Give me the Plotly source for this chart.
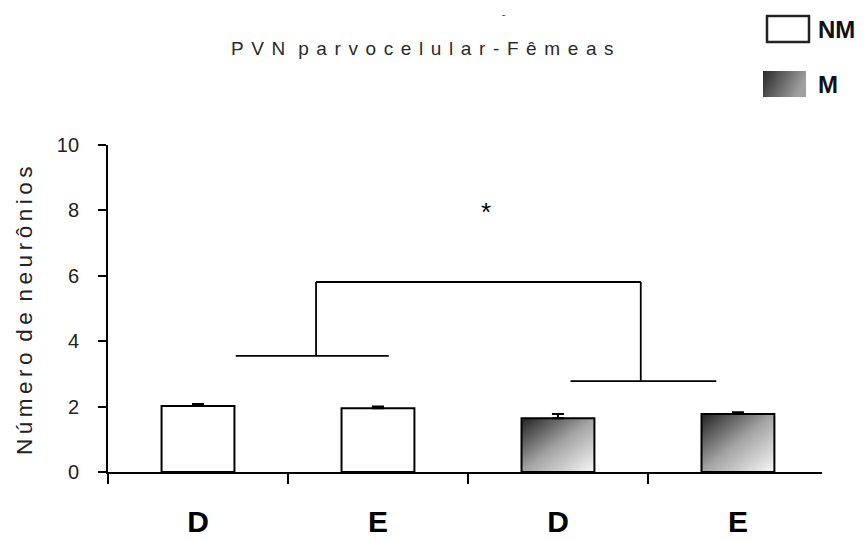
import base64
import plotly.graph_objects as go

# ---- data ----
categories = ["D", "E", "D", "E"]
groups = ["NM", "NM", "M", "M"]
means = [2.02, 1.95, 1.64, 1.77]
sems = [0.06, 0.05, 0.13, 0.06]
legend_names = ["NM", "M"]
title_text = "PVN parvocelular-Fêmeas"
ytitle_text = "Número de neurônios"
y_ticks = [0, 2, 4, 6, 8, 10]
signif_text = "*"

# ---- styling / geometry ----
W, H = 866, 541
OFF = 8  # page body margin offset
ML, MR, MT, MB = 108 - OFF, 866 - (822 - OFF), 145 - OFF, 541 - (472 - OFF)
PW, PH = W - ML - MR, H - MT - MB
BAR_W = 0.405
xpos = list(range(len(categories)))
FONT = "Liberation Sans, Arial"


def px(xs):  # screen x -> paper
    return (xs - OFF - ML) / PW


def py(ys):  # screen y -> paper
    return 1 - (ys - OFF - MT) / PH


grad_svg = ('<svg xmlns="http://www.w3.org/2000/svg" width="100" height="100" preserveAspectRatio="none">'
            '<defs><linearGradient id="g" x1="0" y1="0" x2="1" y2="1">'
            '<stop offset="0" stop-color="#222222"/><stop offset="0.5" stop-color="#a4a4a4"/>'
            '<stop offset="1" stop-color="#f8f8f8"/></linearGradient></defs>'
            '<rect width="100" height="100" fill="url(#g)"/></svg>')
grad_uri = "data:image/svg+xml;base64," + base64.b64encode(grad_svg.encode()).decode()

leg_svg = ('<svg xmlns="http://www.w3.org/2000/svg" width="100" height="100" preserveAspectRatio="none">'
           '<defs><linearGradient id="g" x1="0" y1="0" x2="1" y2="0.3">'
           '<stop offset="0" stop-color="#2a2a2a"/><stop offset="1" stop-color="#a0a0a0"/></linearGradient></defs>'
           '<rect width="100" height="100" fill="url(#g)"/></svg>')
leg_uri = "data:image/svg+xml;base64," + base64.b64encode(leg_svg.encode()).decode()


def spaced(s, sep, wsep):
    return wsep.join(sep.join(list(w)) for w in s.split(" "))


fig = go.Figure()
for g, fill in zip(legend_names, ["white", "rgba(0,0,0,0)"]):
    idx = [i for i, gg in enumerate(groups) if gg == g]
    fig.add_trace(go.Bar(
        x=[xpos[i] for i in idx], y=[means[i] for i in idx],
        width=BAR_W, name=g, showlegend=False,
        marker=dict(color=fill, line=dict(color="black", width=2)),
        error_y=dict(type="data", symmetric=False, array=[sems[i] for i in idx],
                     arrayminus=[0 for _ in idx], visible=True,
                     color="black", thickness=2, width=6),
    ))

images = []
for i, g in enumerate(groups):
    if g == "M":
        images.append(dict(source=grad_uri, xref="x", yref="y",
                           x=xpos[i] - BAR_W / 2, y=means[i], sizex=BAR_W, sizey=means[i],
                           xanchor="left", yanchor="top", sizing="stretch", layer="below"))
# legend gradient box
images.append(dict(source=leg_uri, xref="paper", yref="paper",
                   x=px(763), y=py(71), sizex=43 / PW, sizey=26 / PH,
                   xanchor="left", yanchor="top", sizing="stretch", layer="above"))

# significance bracket (data coordinates)
left_line = (0.21, 1.06, 3.55)
right_line = (2.07, 2.88, 2.78)
top_y = 5.81
lx = 0.656
rx = 2.46
lw = dict(color="black", width=1.8)
shapes = [
    dict(type="line", xref="x", yref="y", x0=left_line[0], x1=left_line[1], y0=left_line[2], y1=left_line[2], line=lw),
    dict(type="line", xref="x", yref="y", x0=right_line[0], x1=right_line[1], y0=right_line[2], y1=right_line[2], line=lw),
    dict(type="line", xref="x", yref="y", x0=lx, x1=lx, y0=left_line[2], y1=top_y, line=lw),
    dict(type="line", xref="x", yref="y", x0=rx, x1=rx, y0=right_line[2], y1=top_y, line=lw),
    dict(type="line", xref="x", yref="y", x0=lx, x1=rx, y0=top_y, y1=top_y, line=lw),
    # legend NM box
    dict(type="rect", xref="paper", yref="paper",
         x0=px(767), x1=px(809), y0=py(42), y1=py(16),
         line=dict(color="#222", width=2.5), fillcolor="white"),
]

annotations = [
    dict(text=signif_text, x=1.6, y=7.95, xref="x", yref="y", showarrow=False,
         font=dict(size=26, color="black", family=FONT)),
    dict(text=spaced(ytitle_text, "\u2009", " \u2009"), textangle=-90, xref="paper", yref="paper",
         x=px(24), y=py(311), xanchor="center", yanchor="middle", showarrow=False,
         font=dict(size=22.5, color="#222", family=FONT)),
    dict(text="<b>" + legend_names[0] + "</b>", xref="paper", yref="paper",
         x=px(816), y=py(29), xanchor="left", yanchor="middle", showarrow=False,
         font=dict(size=24, color="#111", family=FONT)),
    dict(text="<b>" + legend_names[1] + "</b>", xref="paper", yref="paper",
         x=px(816), y=py(84), xanchor="left", yanchor="middle", showarrow=False,
         font=dict(size=24, color="#111", family=FONT)),
    dict(text="-", xref="paper", yref="paper",
         x=px(503), y=py(14), xanchor="center", yanchor="middle", showarrow=False,
         font=dict(size=10, color="#333", family=FONT)),
    dict(text=spaced(title_text, "\u2009\u2009", " \u2009\u2009"), xref="paper", yref="paper",
         x=px(422), y=py(48), xanchor="center", yanchor="middle", showarrow=False,
         font=dict(size=19, color="#2a2a2a", family=FONT)),
]

fig.update_layout(
    width=W, height=H,
    margin=dict(l=ML, r=MR, t=MT, b=MB),
    paper_bgcolor="white", plot_bgcolor="white",
    barmode="overlay",
    shapes=shapes, annotations=annotations, images=images,
    font=dict(family=FONT, color="#222"),
)
fig.update_xaxes(
    range=[-0.5, 3.467], tickmode="array", tickvals=xpos, ticktext=categories,
    ticks="", showline=True, linecolor="black", linewidth=1.8, showgrid=False, zeroline=False,
    tickfont=dict(size=30, color="black", family=FONT, weight="bold"),
    ticklabelstandoff=22,
    minor=dict(tick0=0.5, dtick=1, ticks="outside", ticklen=10, tickwidth=1.8, tickcolor="black", showgrid=False),
)
fig.update_yaxes(
    range=[0, 10], tickmode="array", tickvals=y_ticks, ticks="outside", ticklen=8, tickwidth=1.8,
    tickcolor="black", showline=True, linecolor="black", linewidth=1.8, showgrid=False, zeroline=False,
    tickfont=dict(size=20, color="#222", family=FONT),
    ticklabelstandoff=15,
)

fig.write_html("out.html")
